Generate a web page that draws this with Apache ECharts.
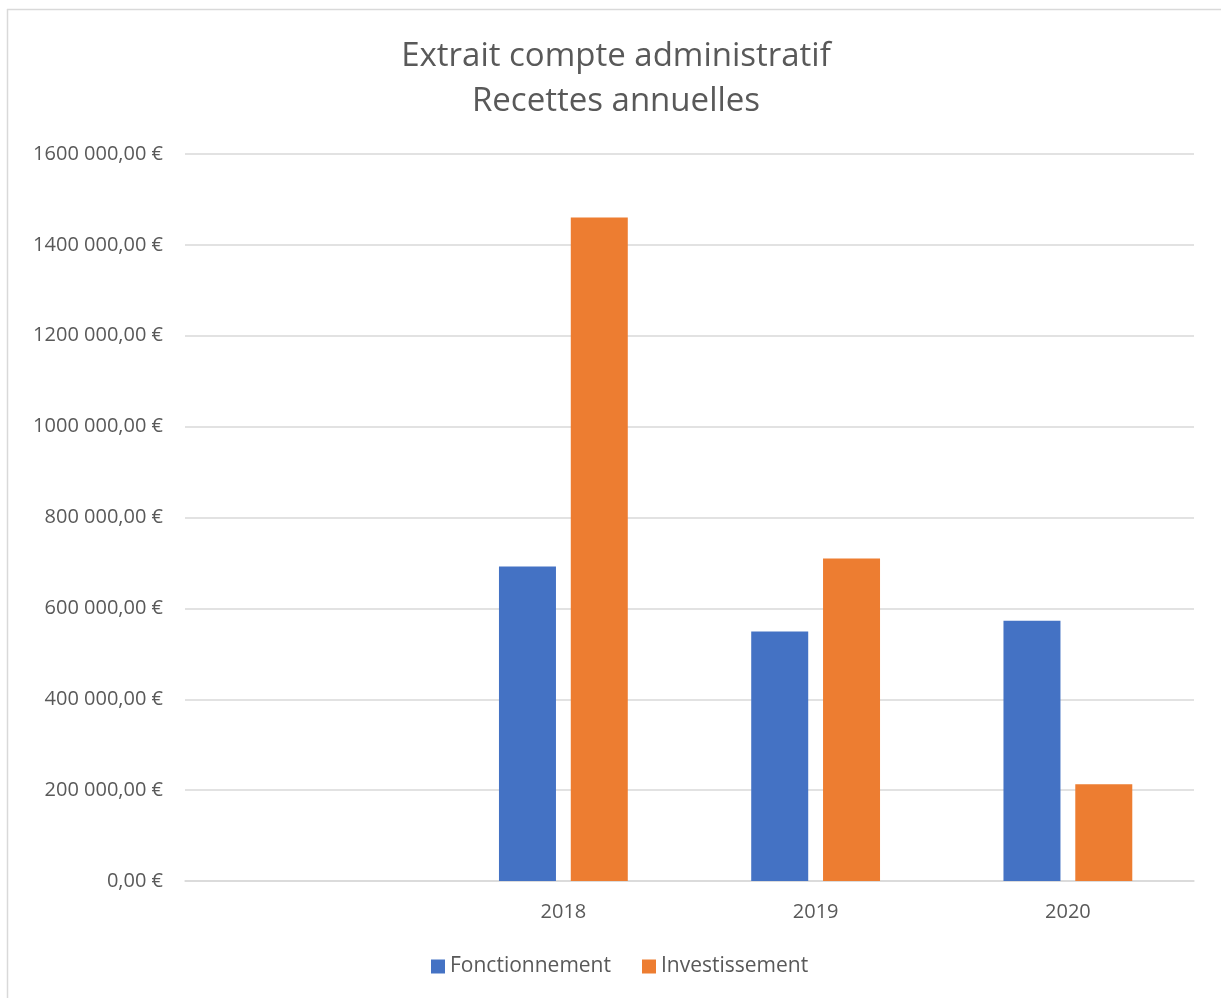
<!DOCTYPE html>
<html><head><meta charset="utf-8">
<script src="https://cdn.jsdelivr.net/npm/echarts@6/dist/echarts.min.js"></script>
<style>html,body{margin:0;padding:0;background:#fff}#c{width:1221px;height:998px}</style>
</head><body><div id="c"></div>
<script>
const categories = ['', '2018', '2019', '2020'];
const fonctionnement = [null, 692000, 549000, 573000];
const investissement = [null, 1460000, 710000, 213000];
const titleLines = ['Extrait compte administratif', 'Recettes annuelles'];
const seriesNames = ['Fonctionnement', 'Investissement'];

function fmt(v) {
  if (v === 0) return '0,00 €';
  const th = Math.floor(v / 1000), rest = v % 1000;
  return th + ' ' + String(rest).padStart(3, '0') + ',00 €';
}
const font = '"Open Sans", "Liberation Sans", sans-serif';
const chart = echarts.init(document.getElementById('c'));
chart.setOption({
  animation: false,
  backgroundColor: '#fff',
  graphic: [
    { type: 'line', shape: { x1: 7, y1: 9.5, x2: 1221, y2: 9.5 }, style: { stroke: '#d9d9d9', lineWidth: 1.5 } },
    { type: 'line', shape: { x1: 7.5, y1: 9, x2: 7.5, y2: 998 }, style: { stroke: '#d9d9d9', lineWidth: 1.5 } }
  ],
  title: {
    text: titleLines.join('\n'), left: 611, textAlign: 'center', top: 29,
    textStyle: { fontFamily: font, fontSize: 33, fontWeight: 'normal', color: '#595959', lineHeight: 45 }
  },
  legend: {
    bottom: 16, left: 426, itemWidth: 14, itemHeight: 14, itemGap: 31, icon: 'rect',
    textStyle: { fontFamily: font, fontSize: 21, color: '#595959' },
    data: seriesNames
  },
  grid: { left: 185, right: 27, top: 154, bottom: 117 },
  xAxis: {
    type: 'category', data: categories,
    axisLine: { lineStyle: { color: '#d9d9d9', width: 1.5 } },
    axisTick: { show: false },
    axisLabel: { fontFamily: font, fontSize: 20, color: '#595959', margin: 21 }
  },
  yAxis: {
    type: 'value', min: 0, max: 1600000, interval: 200000,
    axisLine: { show: false }, axisTick: { show: false },
    splitLine: { lineStyle: { color: '#d9d9d9', width: 1.5 } },
    axisLabel: { fontFamily: font, fontSize: 20, color: '#595959', margin: 22, formatter: fmt }
  },
  series: [
    { name: seriesNames[0], type: 'bar', data: fonctionnement, barWidth: 57, barGap: '26%', itemStyle: { color: '#4472c4' } },
    { name: seriesNames[1], type: 'bar', data: investissement, barWidth: 57, itemStyle: { color: '#ed7d31' } }
  ]
});
</script></body></html>
